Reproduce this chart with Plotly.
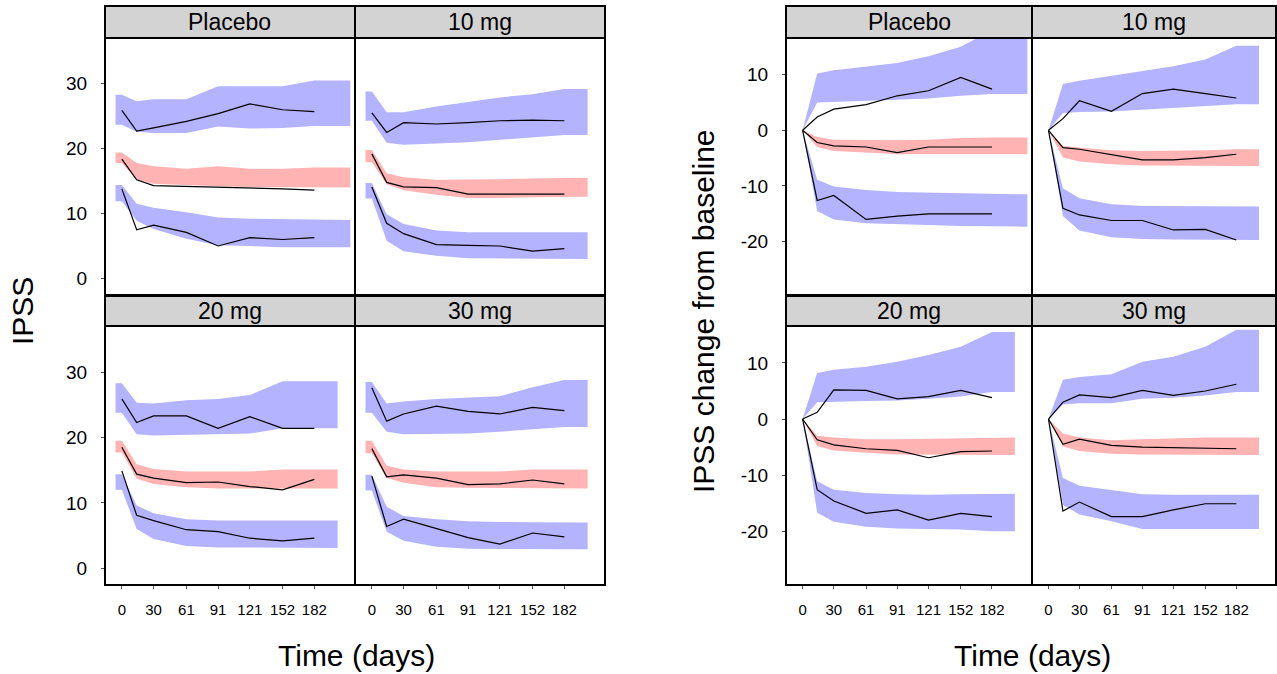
import plotly.graph_objects as go

W, H = 1277, 674

# ---------------- data ----------------
times = [0, 14, 30, 61, 91, 121, 152, 182]
doses = ["Placebo", "10 mg", "20 mg", "30 mg"]
x_ticks = [0, 30, 61, 91, 121, 152, 182]
ipss_yticks = [0, 10, 20, 30]
ipss_yticklabels = ["0", "10", "20", "30"]
chg_yticks = [-20, -10, 0, 10]
chg_yticklabels = ["-20", "-10", "0", "10"]

band_start_ipss = -6
band_start_chg = 0
band_end = [216, 204, 204, 204]

# IPSS (absolute) -- rows: Placebo, 10 mg, 20 mg, 30 mg
ipss_hi_obs = [[25.9, 22.7, 23.2, 24.2, 25.4, 26.9, 26.0, 25.7],
               [25.5, 22.5, 24.0, 23.8, 24.0, 24.3, 24.4, 24.3],
               [25.9, 22.3, 23.3, 23.3, 21.4, 23.2, 21.4, 21.4],
               [27.6, 22.5, 23.6, 24.8, 24.0, 23.6, 24.6, 24.1]]
ipss_hi_top = [[28.3, 27.3, 27.6, 27.6, 29.6, 29.6, 29.6, 30.5],
               [28.8, 25.6, 25.6, 26.5, 27.2, 27.9, 28.4, 29.2],
               [28.3, 25.3, 25.2, 25.7, 25.9, 26.5, 28.6, 28.6],
               [28.5, 25.2, 25.5, 25.9, 26.1, 26.3, 27.7, 28.8]]
ipss_hi_bot = [[23.7, 22.6, 22.4, 22.4, 23.4, 23.1, 23.2, 23.5],
               [24.3, 20.9, 20.6, 20.8, 21.0, 21.3, 21.7, 22.1],
               [23.8, 20.5, 20.3, 20.4, 20.5, 20.6, 21.4, 21.4],
               [23.8, 20.9, 20.5, 20.6, 20.6, 20.9, 21.2, 21.6]]
ipss_med_obs = [[18.4, 15.2, 14.3, 14.2, 14.0, 14.0, 13.8, 13.6],
                [19.2, 14.8, 14.1, 14.0, 13.0, 13.0, 13.0, 13.0],
                [18.5, 14.4, 13.8, 13.1, 13.2, 12.5, 12.0, 13.6],
                [18.3, 14.0, 14.3, 13.8, 12.8, 12.9, 13.5, 12.9]]
ipss_med_top = [[19.4, 17.8, 17.3, 16.9, 17.3, 16.9, 16.9, 17.1],
                [19.8, 16.2, 15.6, 15.2, 15.2, 15.3, 15.4, 15.5],
                [19.5, 15.9, 15.2, 14.8, 14.8, 14.8, 15.1, 15.1],
                [19.5, 15.7, 15.1, 14.8, 14.8, 14.8, 15.1, 15.1]]
ipss_med_bot = [[17.8, 15.2, 14.6, 14.4, 14.2, 14.1, 14.1, 14.0],
                [17.9, 14.5, 13.6, 12.9, 12.4, 12.4, 12.5, 12.6],
                [17.7, 13.7, 12.9, 12.4, 12.2, 12.2, 12.1, 12.2],
                [17.6, 13.8, 13.1, 12.4, 12.3, 12.3, 12.2, 12.2]]
ipss_lo_obs = [[13.8, 7.5, 8.2, 7.1, 5.0, 6.3, 6.0, 6.3],
               [14.1, 8.5, 6.9, 5.2, 5.1, 5.0, 4.2, 4.6],
               [14.9, 8.1, 7.3, 5.9, 5.6, 4.6, 4.2, 4.6],
               [14.1, 6.4, 7.5, 6.1, 4.7, 3.7, 5.4, 4.8]]
ipss_lo_top = [[14.4, 11.5, 10.9, 10.2, 9.4, 9.2, 9.1, 9.0],
               [14.7, 9.9, 8.4, 7.4, 7.1, 7.1, 7.1, 7.1],
               [14.4, 9.6, 8.4, 7.5, 7.3, 7.3, 7.3, 7.3],
               [14.3, 9.4, 8.0, 7.5, 7.2, 7.1, 7.0, 7.0]]
ipss_lo_bot = [[11.9, 8.9, 7.6, 6.1, 5.1, 5.0, 4.8, 4.8],
               [12.3, 5.8, 4.2, 3.5, 3.1, 3.1, 3.0, 3.0],
               [12.0, 6.0, 4.5, 3.4, 3.2, 3.2, 3.1, 3.1],
               [11.9, 5.6, 4.2, 3.3, 3.0, 3.0, 2.9, 2.9]]

# IPSS change from baseline -- rows: Placebo, 10 mg, 20 mg, 30 mg
chg_hi_obs = [[0, 2.4, 3.8, 4.6, 6.2, 7.1, 9.5, 7.4],
              [0, 2.1, 5.3, 3.4, 6.6, 7.4, 6.6, 5.8],
              [0, 1.2, 5.2, 5.1, 3.6, 4.0, 5.1, 3.8],
              [0, 3.0, 4.3, 3.8, 5.1, 4.2, 5.0, 6.2]]
chg_hi_top = [[0, 10.2, 10.8, 11.4, 12.1, 13.3, 15.0, 18.0],
              [0, 8.3, 8.9, 9.8, 10.7, 11.5, 12.7, 15.2],
              [0, 8.2, 8.8, 9.3, 10.2, 11.4, 12.9, 15.5],
              [0, 7.0, 7.5, 8.0, 10.2, 11.1, 12.9, 15.9]]
chg_hi_bot = [[0, 5.0, 5.0, 5.3, 5.5, 5.7, 6.2, 6.5],
              [0, 3.1, 3.3, 3.4, 3.7, 4.0, 4.4, 4.7],
              [0, 3.0, 3.1, 3.2, 3.3, 3.6, 4.0, 4.8],
              [0, 2.6, 2.8, 2.8, 3.6, 3.8, 4.2, 4.8]]
chg_med_obs = [[0, -2.2, -2.8, -3.0, -4.0, -3.0, -3.0, -3.0],
               [0, -3.1, -3.4, -4.4, -5.3, -5.3, -4.9, -4.3],
               [0, -3.7, -4.6, -5.3, -5.6, -6.9, -5.8, -5.7],
               [0, -4.5, -3.6, -4.7, -5.0, -5.1, -5.3, -5.3]]
chg_med_top = [[0, -1.2, -1.7, -1.8, -1.8, -1.7, -1.4, -1.3],
               [0, -2.8, -3.1, -3.6, -3.7, -3.7, -3.6, -3.4],
               [0, -3.0, -3.3, -3.6, -3.6, -3.5, -3.4, -3.3],
               [0, -2.6, -3.3, -3.8, -3.6, -3.4, -3.3, -3.3]]
chg_med_bot = [[0, -3.0, -3.7, -4.0, -4.3, -4.3, -4.3, -4.3],
               [0, -4.9, -5.6, -6.1, -6.3, -6.4, -6.4, -6.4],
               [0, -4.8, -5.6, -6.0, -6.3, -6.4, -6.4, -6.4],
               [0, -4.9, -5.7, -6.2, -6.3, -6.4, -6.4, -6.4]]
chg_lo_obs = [[0, -12.6, -11.7, -16.0, -15.4, -15.0, -15.0, -15.0],
              [0, -14.0, -15.2, -16.2, -16.2, -17.9, -17.8, -19.7],
              [0, -12.6, -14.6, -16.8, -16.2, -18.0, -16.8, -17.4],
              [0, -16.4, -14.8, -17.4, -17.4, -16.2, -15.1, -15.1]]
chg_lo_top = [[0, -8.9, -10.1, -10.7, -11.1, -11.2, -11.4, -11.5],
              [0, -10.4, -12.2, -13.3, -13.6, -13.6, -13.6, -13.7],
              [0, -11.1, -12.6, -13.2, -13.4, -13.5, -13.4, -13.3],
              [0, -10.5, -11.9, -12.6, -13.4, -13.5, -13.5, -13.5]]
chg_lo_bot = [[0, -14.5, -16.0, -16.7, -16.9, -17.0, -17.2, -17.3],
              [0, -15.4, -18.0, -19.2, -19.5, -19.6, -19.6, -19.7],
              [0, -16.7, -18.3, -19.2, -19.5, -19.6, -19.7, -20.0],
              [0, -15.3, -17.0, -18.2, -19.6, -19.6, -19.6, -19.6]]

# ---------------- styling / layout ----------------
BLUE = "rgb(179,179,255)"
RED = "rgb(255,179,179)"
FONT = "Liberation Sans, Arial, sans-serif"

charts = [
    dict(name="ipss", start=band_start_ipss, yrange=[-2.4, 36.9],
         yticks=ipss_yticks, yticklabels=ipss_yticklabels,
         bands=[(ipss_hi_top, ipss_hi_bot, BLUE), (ipss_med_top, ipss_med_bot, RED),
                (ipss_lo_top, ipss_lo_bot, BLUE)],
         lines=[ipss_hi_obs, ipss_med_obs, ipss_lo_obs],
         cols=[(106, 354), (356, 604)], ytitle="IPSS", ytitle_x=22, xtitle_x=356),
    dict(name="chg", start=band_start_chg, yrange=[-29.4, 16.4],
         yticks=chg_yticks, yticklabels=chg_yticklabels,
         bands=[(chg_hi_top, chg_hi_bot, BLUE), (chg_med_top, chg_med_bot, RED),
                (chg_lo_top, chg_lo_bot, BLUE)],
         lines=[chg_hi_obs, chg_med_obs, chg_lo_obs],
         cols=[(787, 1031), (1033, 1275)], ytitle="IPSS change from baseline",
         ytitle_x=703, xtitle_x=1032),
]
rows = [(39, 294), (327, 584)]
strips = [(6, 38), (296, 326)]


def px_x(p):
    return p / W


def px_y(p):
    return 1 - p / H


fig = go.Figure()
layout = {}
shapes = []
annotations = []

for c, ch in enumerate(charts):
    for d, dose in enumerate(doses):
        r, k = d // 2, d % 2
        n = c * 4 + d + 1
        xa = "x" if n == 1 else f"x{n}"
        ya = "y" if n == 1 else f"y{n}"

        # band x vertices
        bx = list(times) + [band_end[d]]
        if ch["start"] < 0:
            bx = [ch["start"]] + bx
        for top_arr, bot_arr, col in ch["bands"]:
            top = list(top_arr[d]) + [top_arr[d][-1]]
            bot = list(bot_arr[d]) + [bot_arr[d][-1]]
            if ch["start"] < 0:
                top = [top_arr[d][0]] + top
                bot = [bot_arr[d][0]] + bot
            fig.add_trace(go.Scatter(
                x=bx + bx[::-1], y=top + bot[::-1], mode="lines",
                fill="toself", fillcolor=col, line=dict(width=0, color=col),
                hoverinfo="skip", showlegend=False, xaxis=xa, yaxis=ya))
        for ln in ch["lines"]:
            fig.add_trace(go.Scatter(
                x=times, y=ln[d], mode="lines", line=dict(color="black", width=1.2),
                showlegend=False, xaxis=xa, yaxis=ya))

        x0, x1 = ch["cols"][k]
        y0, y1 = rows[r]
        layout[f"xaxis{'' if n == 1 else n}"] = dict(
            domain=[px_x(x0), px_x(x1)], anchor=ya, range=[-15, 219.5],
            tickmode="array", tickvals=x_ticks, ticktext=[str(t) for t in x_ticks],
            showticklabels=(r == 1), ticks="outside" if r == 1 else "",
            ticklen=3, tickcolor="#555", tickwidth=1,
            tickfont=dict(family=FONT, size=15, color="black"),
            ticklabelstandoff=8,
            showgrid=False, zeroline=False, showline=True, mirror=True,
            linecolor="black", linewidth=2, fixedrange=True)
        layout[f"yaxis{'' if n == 1 else n}"] = dict(
            domain=[px_y(y1), px_y(y0)], anchor=xa, range=ch["yrange"],
            tickmode="array", tickvals=ch["yticks"], ticktext=ch["yticklabels"],
            showticklabels=(k == 0), ticks="outside" if k == 0 else "",
            ticklen=3, tickcolor="#555", tickwidth=1,
            tickfont=dict(family=FONT, size=19, color="black"),
            ticklabelstandoff=10,
            showgrid=False, zeroline=False, showline=True, mirror=True,
            linecolor="black", linewidth=2, fixedrange=True)

        # strip
        s0, s1 = strips[r]
        sx0, sx1 = x0 - 1, x1 + 1
        shapes.append(dict(type="rect", xref="paper", yref="paper",
                           x0=px_x(sx0), x1=px_x(sx1), y0=px_y(s1), y1=px_y(s0),
                           fillcolor="#D3D3D3", line=dict(color="black", width=2),
                           layer="above"))
        annotations.append(dict(text=dose, xref="paper", yref="paper",
                                x=px_x((x0 + x1) / 2), y=px_y((s0 + s1) / 2),
                                xanchor="center", yanchor="middle", showarrow=False,
                                font=dict(family=FONT, size=23, color="black")))

    # axis titles
    annotations.append(dict(text=ch["ytitle"], xref="paper", yref="paper",
                            x=px_x(ch["ytitle_x"]), y=px_y(311), textangle=-90,
                            xanchor="center", yanchor="middle", showarrow=False,
                            font=dict(family=FONT, size=30, color="black")))
    annotations.append(dict(text="Time (days)", xref="paper", yref="paper",
                            x=px_x(ch["xtitle_x"]), y=px_y(655),
                            xanchor="center", yanchor="middle", showarrow=False,
                            font=dict(family=FONT, size=30, color="black")))

fig.update_layout(
    width=W, height=H, autosize=False,
    margin=dict(l=0, r=0, t=0, b=0),
    paper_bgcolor="white", plot_bgcolor="white",
    shapes=shapes, annotations=annotations, showlegend=False,
    **layout)

fig.write_html("out.html")
